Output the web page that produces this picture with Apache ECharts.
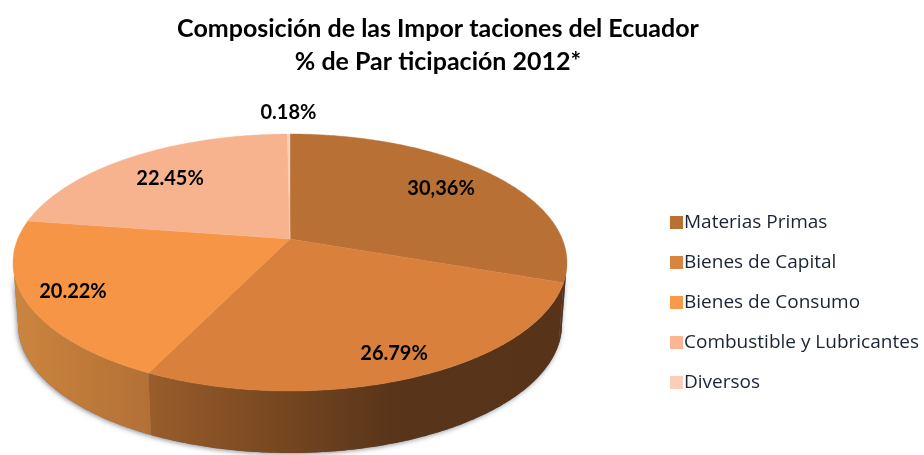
<!DOCTYPE html>
<html><head><meta charset="utf-8">
<style>html,body{margin:0;padding:0;background:#fff}#c{width:924px;height:455px}</style>
<script src="https://cdn.jsdelivr.net/npm/echarts@6/dist/echarts.min.js"></script>
</head><body><div id="c"></div>
<script>
const categories = ['Materias Primas','Bienes de Capital','Bienes de Consumo','Combustible y Lubricantes','Diversos'];
const values = [30.36,26.79,20.22,22.45,0.18];
const valueLabels = ['30,36%','26.79%','20.22%','22.45%','0.18%'];
const titleLines = ['Composición de las Impor taciones del Ecuador','% de Par ticipación 2012*'];

const topColors = ['#b87034','#d8803c','#f59545','#f7b38e','#fbd0bd'];
const legendColors = ['#b87033','#d98440','#f99a4a','#fcb595','#fccdb8'];
const wallStops = [
  [[0,'#57331a'],[1,'#57331a']],
  [[0,'#9a5d2b'],[0.36,'#72441f'],[0.6,'#58341a'],[1,'#57331a']],
  [[0,'#cb853f'],[1,'#b37035']],
  [[0,'#cb853f'],[1,'#cb853f']],
  [[0,'#cb853f'],[1,'#cb853f']]
];
const labelRadius = [0.733,0.855,0.837,0.739,1.257];
const labelNudgeY = [-2,0,0,2,0];

const view = {cx:290,cy:239,ax:272.3,ay:124.2,k:-0.183,depth:62,bottomScale:0.982};
const total = values.reduce((a,b)=>a+b,0);
const starts = [];
values.reduce((acc,v,i)=>{starts[i]=acc;return acc+v;},0);
function project(theta,r){
  const X=Math.sin(theta)*r,Y=-Math.cos(theta)*r,w=1+view.k*Y;
  return [view.cx+view.ax*X/w,view.cy+view.ay*Y/w];
}
function lower(p){return [view.cx+(p[0]-view.cx)*view.bottomScale,p[1]+view.depth];}
function arc(a,b){
  const n=Math.max(2,Math.ceil((b-a)/0.01)),out=[];
  for(let i=0;i<=n;i++)out.push(project(a+(b-a)*i/n,1));
  return out;
}

function makeRender(i){
  return function(){
    const a=starts[i]/total*2*Math.PI,b=(starts[i]+values[i])/total*2*Math.PI,children=[];
    const wa=Math.max(a,Math.acos(view.k)),wb=Math.min(b,2*Math.PI-Math.acos(view.k));
    if(wb>wa){
      const rim=arc(wa,wb),poly=rim.concat(rim.slice().reverse().map(lower));
      children.push({type:'polygon',z2:0,shape:{points:poly},style:{fill:'#777',shadowColor:'rgba(40,50,70,0.55)',shadowBlur:5,shadowOffsetX:-1,shadowOffsetY:1},silent:true});
      children.push({type:'polygon',z2:1,shape:{points:poly},silent:true,style:{
        fill:new echarts.graphic.LinearGradient(0,0,1,0,wallStops[i].map(s=>({offset:s[0],color:s[1]})))}});
    }
    const top=[[view.cx,view.cy]].concat(arc(a,b));
    children.push({type:'polygon',z2:2,shape:{points:top},silent:true,style:{fill:topColors[i],stroke:topColors[i],lineWidth:0.4}});
    const lp=project((a+b)/2,labelRadius[i]);
    children.push({type:'text',z2:3,silent:true,x:lp[0],y:lp[1]+labelNudgeY[i],style:{text:valueLabels[i],font:'bold 20px Lato',fill:'#000',align:'center',verticalAlign:'middle'}});
    return {type:'group',children};
  };
}

const chart=echarts.init(document.getElementById('c'),null,{renderer:'canvas'});
chart.setOption({
  animation:false,
  backgroundColor:'#fff',
  title:{text:titleLines.join('\n'),left:433,top:7,textAlign:'center',
    textStyle:{fontFamily:'Lato',fontWeight:'bold',fontSize:25,lineHeight:33,color:'#000'}},
  legend:{orient:'vertical',left:665,top:208,itemWidth:13,itemHeight:13,itemGap:21,itemStyle:{borderWidth:0},icon:'rect',selectedMode:false,
    data:categories,textStyle:{fontFamily:'Open Sans',fontSize:19,color:'#1a2433',padding:[0,0,0,-4]}},
  series:categories.map((name,i)=>({
    type:'custom',name,coordinateSystem:'none',silent:true,
    itemStyle:{color:legendColors[i]},
    renderItem:makeRender(i),data:[[values[i]]]
  }))
});
</script></body></html>
